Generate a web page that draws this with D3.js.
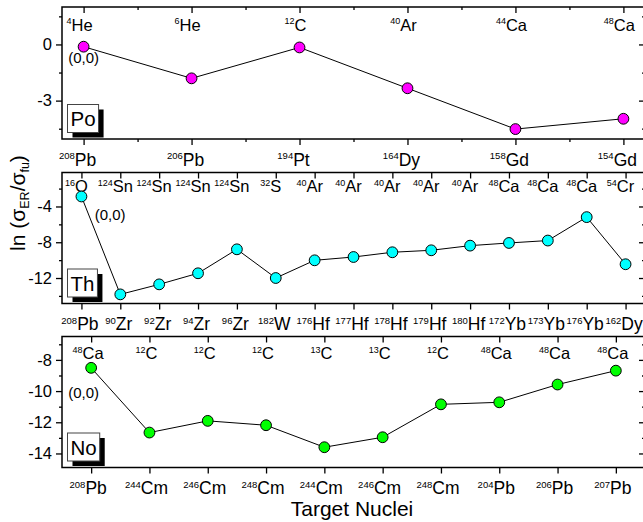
<!DOCTYPE html>
<html>
<head>
<meta charset="utf-8">
<script src="https://cdn.jsdelivr.net/npm/d3@7"></script>
<style>
  body { margin: 0; background: #fff; }
  svg { display: block; font-family: "Liberation Sans", Arial, sans-serif; }
</style>
</head>
<body>
<svg id="chart" width="643" height="522"></svg>
<script>
// ---- Po: projectile / target pairs and ln(sigma_ER/sigma_fu) ----
const poProjectiles = [["4", "He"], ["6", "He"], ["12", "C"], ["40", "Ar"], ["44", "Ca"], ["48", "Ca"]];
const poTargets = [["208", "Pb"], ["206", "Pb"], ["194", "Pt"], ["164", "Dy"], ["158", "Gd"], ["154", "Gd"]];
const poValues = [-0.12, -1.81, -0.16, -2.34, -4.52, -3.97];
const poTicks = [0, -3];
const poMinorTicks = [1.5, -1.5, -4.5];

// ---- Th ----
const thProjectiles = [["16", "O"], ["124", "Sn"], ["124", "Sn"], ["124", "Sn"], ["124", "Sn"], ["32", "S"],
  ["40", "Ar"], ["40", "Ar"], ["40", "Ar"], ["40", "Ar"], ["40", "Ar"], ["48", "Ca"], ["48", "Ca"], ["48", "Ca"], ["54", "Cr"]];
const thTargets = [["208", "Pb"], ["90", "Zr"], ["92", "Zr"], ["94", "Zr"], ["96", "Zr"], ["182", "W"],
  ["176", "Hf"], ["177", "Hf"], ["178", "Hf"], ["179", "Hf"], ["180", "Hf"], ["172", "Yb"], ["173", "Yb"], ["176", "Yb"], ["162", "Dy"]];
const thValues = [-2.88, -13.83, -12.71, -11.47, -8.79, -12.0, -10.02, -9.65, -9.12, -8.90, -8.38, -8.08, -7.81, -5.19, -10.46];
const thTicks = [-4, -8, -12];
const thMinorTicks = [-2, -6, -10, -14];

// ---- No ----
const noProjectiles = [["48", "Ca"], ["12", "C"], ["12", "C"], ["12", "C"], ["13", "C"], ["13", "C"],
  ["12", "C"], ["48", "Ca"], ["48", "Ca"], ["48", "Ca"]];
const noTargets = [["208", "Pb"], ["244", "Cm"], ["246", "Cm"], ["248", "Cm"], ["244", "Cm"], ["246", "Cm"],
  ["248", "Cm"], ["204", "Pb"], ["206", "Pb"], ["207", "Pb"]];
const noValues = [-8.51, -12.66, -11.91, -12.19, -13.6, -12.96, -10.85, -10.72, -9.58, -8.69];
const noTicks = [-8, -10, -12, -14];
const noMinorTicks = [-7, -9, -11, -13];

const channelLabel = "(0,0)";

// Panel layout
const panels = [
  { name: "Po", projectiles: poProjectiles, targets: poTargets, values: poValues, ticks: poTicks, minor: poMinorTicks,
    top: 7, bottom: 139, yDomain: [-5.05, 2.0], xDomain: [-0.2, 5.2], xMinor: true, color: "#ff00ff",
    note: [0.0, -1.0], topDx: -4, botDx: -6, topBase: 23.5 },
  { name: "Th", projectiles: thProjectiles, targets: thTargets, values: thValues, ticks: thTicks, minor: thMinorTicks,
    top: 172.5, bottom: 303.5, yDomain: [-14.85, -0.2], xDomain: [-0.5, 14.5], xMinor: false, color: "#00ffff",
    note: [0.74, -5.5], topDx: -5, botDx: -1.5, topBase: 19.5 },
  { name: "No", projectiles: noProjectiles, targets: noTargets, values: noValues, ticks: noTicks, minor: noMinorTicks,
    top: 336.5, bottom: 467.5, yDomain: [-14.9, -6.5], xDomain: [-0.5, 9.5], xMinor: false, color: "#00ff00",
    note: [-0.13, -10.42], topDx: -3, botDx: -3, topBase: 22.5 }
];

const left = 62, right = 645;
const font = '"Liberation Sans", Arial, sans-serif';
const svg = d3.select("#chart");

function isotopeLabel(sel, pair, mainSize, supSize) {
  sel.append("tspan").attr("font-size", supSize).attr("dy", -6.5).text(pair[0]);
  sel.append("tspan").attr("font-size", mainSize).attr("dy", 6.5).text(pair[1]);
}

panels.forEach(p => {
  const idx = d3.range(p.values.length);
  const x = d3.scaleLinear().domain(p.xDomain).range([left, right]);
  const y = d3.scaleLinear().domain(p.yDomain).range([p.bottom, p.top]);
  const g = svg.append("g");

  // minor / major ticks on all four sides
  const xMinorVals = p.xMinor ? idx.slice(0, -1).map(i => i + 0.5) : [];
  const axes = [
    { ax: d3.axisLeft(y).tickValues(p.ticks).tickSize(6).tickPadding(4).tickFormat(d => String(d)), tr: `translate(${left},0)`, label: true },
    { ax: d3.axisLeft(y).tickValues(p.minor).tickSize(3).tickFormat(""), tr: `translate(${left},0)` },
    { ax: d3.axisLeft(y).tickValues(p.ticks).tickSize(6).tickFormat(""), tr: `translate(${right},0)` },
    { ax: d3.axisLeft(y).tickValues(p.minor).tickSize(3).tickFormat(""), tr: `translate(${right},0)` },
    { ax: d3.axisBottom(x).tickValues(idx).tickSize(6).tickFormat(""), tr: `translate(0,${p.bottom})` },
    { ax: d3.axisBottom(x).tickValues(xMinorVals).tickSize(3).tickFormat(""), tr: `translate(0,${p.bottom})` },
    { ax: d3.axisBottom(x).tickValues(idx).tickSize(6).tickFormat(""), tr: `translate(0,${p.top})` },
    { ax: d3.axisBottom(x).tickValues(xMinorVals).tickSize(3).tickFormat(""), tr: `translate(0,${p.top})` }
  ];
  axes.forEach(a => {
    const ag = g.append("g").attr("transform", a.tr).call(a.ax.tickSizeOuter(0));
    ag.select(".domain").remove();
    ag.selectAll("line").attr("stroke", "#000").attr("stroke-width", 1.3);
    if (a.label) {
      ag.attr("font-family", font).attr("font-size", 16.5);
      ag.selectAll("text").attr("fill", "#000");
    }
  });

  // frame
  g.append("rect").attr("x", left).attr("y", p.top)
    .attr("width", right - left).attr("height", p.bottom - p.top)
    .attr("fill", "none").attr("stroke", "#000").attr("stroke-width", 1.5);

  // projectile labels along the top
  g.selectAll(".proj").data(p.projectiles).join("text")
    .attr("class", "proj")
    .attr("x", (d, i) => x(i) + p.topDx)
    .attr("y", p.top + p.topBase)
    .attr("text-anchor", "middle")
    .each(function (d) { isotopeLabel(d3.select(this), d, 16.5, 9); });

  // target labels below the axis
  g.selectAll(".targ").data(p.targets).join("text")
    .attr("class", "targ")
    .attr("x", (d, i) => x(i) + p.botDx)
    .attr("y", p.bottom + 26.5)
    .attr("text-anchor", "middle")
    .each(function (d) { isotopeLabel(d3.select(this), d, 17.5, 9.5); });

  // connecting line and markers
  g.append("path").datum(p.values)
    .attr("fill", "none").attr("stroke", "#000").attr("stroke-width", 1)
    .attr("d", d3.line().x((d, i) => x(i)).y(d => y(d)));
  g.selectAll("circle").data(p.values).join("circle")
    .attr("cx", (d, i) => x(i)).attr("cy", d => y(d)).attr("r", 5.4)
    .attr("fill", p.color).attr("stroke", "#000").attr("stroke-width", 1);

  // decay channel note
  g.append("text").attr("x", x(p.note[0])).attr("y", y(p.note[1]))
    .attr("text-anchor", "middle").attr("font-size", 15).text(channelLabel);

  // element box with drop shadow
  const box = g.append("g");
  const shadow = box.append("rect").attr("fill", "#000");
  const face = box.append("rect").attr("fill", "#fff").attr("stroke", "#444").attr("stroke-width", 1);
  const t = box.append("text").attr("x", left + 8.5).attr("y", p.bottom - 13)
    .attr("font-size", 20.5).text(p.name);
  const bb = t.node().getBBox();
  const bx = left + 5.5, bw = bb.width + 6, by = p.bottom - 34.5, bh = 28;
  face.attr("x", bx).attr("y", by).attr("width", bw).attr("height", bh);
  shadow.attr("x", bx + 5).attr("y", by + 5).attr("width", bw).attr("height", bh);
});

// axis titles
const yTitle = svg.append("text")
  .attr("transform", "translate(25,203) rotate(-90)")
  .attr("text-anchor", "middle").attr("font-size", 21);
yTitle.append("tspan").text("ln (σ");
yTitle.append("tspan").attr("font-size", 12.5).attr("dy", 4).text("ER");
yTitle.append("tspan").attr("dy", -4).text("/σ");
yTitle.append("tspan").attr("font-size", 12.5).attr("dy", 4).text("fu");
yTitle.append("tspan").attr("dy", -4).text(")");

svg.append("text").attr("x", 352).attr("y", 516).attr("text-anchor", "middle")
  .attr("font-size", 21).text("Target Nuclei");
</script>
</body>
</html>
